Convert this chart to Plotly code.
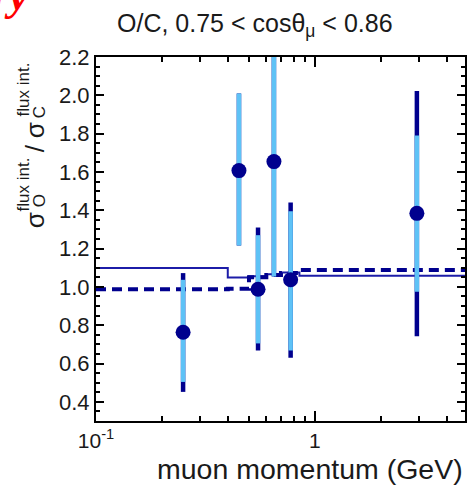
import plotly.graph_objects as go

# ---- data ----
momentum = [0.25, 0.45, 0.55, 0.65, 0.775, 2.925]
ratio = [0.763, 1.607, 0.988, 1.654, 1.037, 1.384]
stat_hi = [1.037, 2.01, 1.27, 2.45, 1.395, 1.79]
stat_lo = [0.504, 1.216, 0.705, 1.054, 0.668, 0.975]
tot_hi = [1.072, 2.01, 1.31, 2.45, 1.44, 2.023]
tot_lo = [0.452, 1.216, 0.668, 1.054, 0.63, 0.742]

bin_edges = [0.1, 0.4, 0.5, 0.6, 0.7, 0.85, 5.0]
model_solid = [1.098, 1.049, 1.056, 1.066, 1.075, 1.058]
model_dashed = [0.988, 0.99, 1.05, 1.062, 1.072, 1.088]

y_ticks = [0.4, 0.6, 0.8, 1.0, 1.2, 1.4, 1.6, 1.8, 2.0, 2.2]
x_ticks = [0.1, 1]
x_ticktext = ["10<sup>-1</sup>", "1"]
x_minor = [0.2, 0.3, 0.4, 0.5, 0.6, 0.7, 0.8, 0.9, 2, 3, 4]

NAVY = "#00008e"
LIGHT = "#5ec2f6"
FONT = "Liberation Sans, Arial, sans-serif"

fig = go.Figure()

# model step lines
fig.add_trace(go.Scatter(
    x=bin_edges, y=model_solid + [model_solid[-1]], mode="lines",
    line=dict(color="#1c1ca8", width=2, shape="hv"), hoverinfo="skip"))
fig.add_trace(go.Scatter(
    x=bin_edges, y=model_dashed + [model_dashed[-1]], mode="lines",
    line=dict(color=NAVY, width=4, shape="hv", dash="10px,6px"), hoverinfo="skip"))

# total error (dark)
fig.add_trace(go.Scatter(
    x=momentum, y=ratio, mode="markers",
    marker=dict(size=1, color="rgba(0,0,0,0)"),
    error_y=dict(type="data", symmetric=False,
                 array=[h - v for h, v in zip(tot_hi, ratio)],
                 arrayminus=[v - l for v, l in zip(ratio, tot_lo)],
                 thickness=4.5, width=0, color=NAVY)))
# stat error (light)
fig.add_trace(go.Scatter(
    x=momentum, y=ratio, mode="markers",
    marker=dict(size=1, color="rgba(0,0,0,0)"),
    error_y=dict(type="data", symmetric=False,
                 array=[h - v for h, v in zip(stat_hi, ratio)],
                 arrayminus=[v - l for v, l in zip(ratio, stat_lo)],
                 thickness=4.5, width=0, color=LIGHT)))
# points
fig.add_trace(go.Scatter(
    x=momentum, y=ratio, mode="markers",
    marker=dict(size=15, color=NAVY, line=dict(width=0))))

L, R, T, B = 96, 3, 57, 74
W, H = 470, 495
pw, ph = W - L - R, H - T - B


def px(xp):
    return (xp - L) / pw


def py(yp):
    return (H - B - yp) / ph


fig.update_layout(
    width=W, height=H,
    margin=dict(l=L, r=R, t=T, b=B, pad=0),
    paper_bgcolor="white", plot_bgcolor="white",
    showlegend=False,
    font=dict(family=FONT, color="#1a1a1a"),
)

fig.update_xaxes(
    type="log", range=[-1, 0.686],
    showgrid=False, zeroline=False,
    showline=True, linecolor="black", linewidth=2, mirror="ticks",
    ticks="inside", ticklen=10, tickwidth=1.5, tickcolor="black",
    tickvals=x_ticks, ticktext=x_ticktext,
    tickfont=dict(size=21, family=FONT, color="#1a1a1a"),
    ticklabelstandoff=0,
    minor=dict(tickvals=x_minor, ticks="inside", ticklen=5, tickwidth=1.5,
               tickcolor="black", showgrid=False),
)
fig.update_yaxes(
    range=[0.3, 2.2],
    showgrid=False, zeroline=False,
    showline=True, linecolor="black", linewidth=2, mirror="ticks",
    ticks="inside", ticklen=8, tickwidth=1.5, tickcolor="black",
    tickvals=y_ticks, tickformat=".1f",
    tickfont=dict(size=22, family=FONT, color="#1a1a1a"),
    ticklabelstandoff=0,
    minor=dict(dtick=0.05, tick0=0.3, ticks="inside", ticklen=4, tickwidth=1.5,
               tickcolor="black", showgrid=False),
)

ann = []
# title
ann.append(dict(text="O/C, 0.75 < cosθ<sub>μ</sub> < 0.86", x=px(256), y=py(25),
                xref="paper", yref="paper", showarrow=False,
                xanchor="center", yanchor="middle",
                font=dict(size=25, family=FONT, color="#1a1a1a")))
# x title
ann.append(dict(text="muon momentum (GeV)", x=px(467), y=py(469),
                xref="paper", yref="paper", showarrow=False,
                xanchor="right", yanchor="middle",
                font=dict(size=28.5, family=FONT, color="#1a1a1a")))
# y title pieces (rotated)
ypieces = [
    ("σ", 35, 220, 26),
    ("flux int.", 23, 184, 17),
    ("O", 39, 201, 17),
    ("/", 35, 148, 26),
    ("σ", 35, 130, 26),
    ("flux int.", 23, 89, 17),
    ("C", 39, 112, 17),
]
for t, xx, yy, s in ypieces:
    ann.append(dict(text=t, x=px(xx), y=py(yy), xref="paper", yref="paper",
                    showarrow=False, textangle=-90,
                    xanchor="center", yanchor="middle",
                    font=dict(size=s, family=FONT, color="#1a1a1a")))
# red cropped "Preliminary"
ann.append(dict(text="<b><i>Preliminary</i></b>", x=px(31), y=py(22),
                xref="paper", yref="paper", showarrow=False,
                xanchor="right", yanchor="bottom",
                font=dict(size=44, family="Liberation Serif, Times New Roman, serif",
                          color="#ff0000")))
fig.update_layout(annotations=ann)

fig.write_html("out.html")
